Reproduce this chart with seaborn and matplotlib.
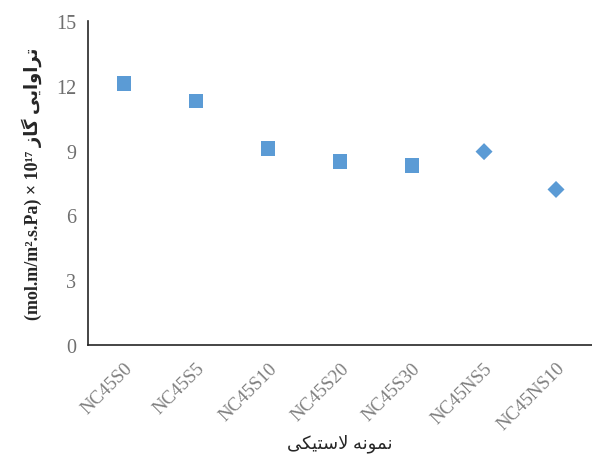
import matplotlib
matplotlib.use("Agg")
import matplotlib.pyplot as plt
import seaborn as sns
import pandas as pd

# Datos
samples = ['NC45S0', 'NC45S5', 'NC45S10', 'NC45S20', 'NC45S30', 'NC45NS5', 'NC45NS10']
permeability = [12.1, 11.3, 9.1, 8.5, 8.3, 8.95, 7.2]
filler = ['S', 'S', 'S', 'S', 'S', 'NS', 'NS']
y_ticks = [0, 3, 6, 9, 12, 15]

# Texto persa ya en orden visual (formas de presentación), matplotlib no hace shaping
x_label = '\uFEF0\uFB91\uFEF4\uFE98\uFEB3\uFEFB \uFEEA\uFEE7\uFEEE\uFEE4\uFEE7'
y_label = ('(mol.m/m\u00B2.s.Pa) \u00D7 10\u00B9\u2077 '
           '\uFEAF\uFE8E\uFB94 \uFEF0\uFEF3\uFE8D\uFEED\uFE8D\uFEAE\uFE97')

df = pd.DataFrame({'sample': samples, 'perm': permeability, 'filler': filler})

sns.set_theme(style="white")
plt.rcParams['font.family'] = ['Liberation Serif', 'DejaVu Sans']

fig, ax = plt.subplots(figsize=(5.92, 4.64), dpi=100)
fig.subplots_adjust(left=0.149, right=1.0, top=0.953, bottom=0.254)

sns.scatterplot(data=df, x='sample', y='perm', style='filler',
                markers={'S': 's', 'NS': 'D'},
                color='#5B9BD5', s=110, linewidth=0, legend=False, ax=ax)
# rombos un poco más pequeños
coll = ax.collections[0]
sizes = [110 if f == 'S' else 75 for f in filler]
coll.set_sizes(sizes)

ax.set_xlim(-0.5, len(samples) - 0.5)
ax.set_ylim(0, 15)
ax.set_yticks(y_ticks)
ax.set_xticks(range(len(samples)))
ax.set_xticklabels(samples, rotation=45, ha='right', rotation_mode='anchor')

for side in ['top', 'right']:
    ax.spines[side].set_visible(False)
for side in ['left', 'bottom']:
    ax.spines[side].set_color('#262626')
    ax.spines[side].set_linewidth(1.2)

ax.tick_params(axis='both', which='both', direction='out', length=5, width=1.1,
               color='#262626', labelsize=14.5, labelcolor='#6f6f6f')
ax.tick_params(axis='x', pad=5, labelsize=13.5, labelcolor='#7f7f7f')

ax.set_xlabel(x_label, fontsize=13, color='#262626', labelpad=0)
ax.set_ylabel(y_label, fontsize=13, color='#262626', fontweight='bold', labelpad=10)

plt.savefig('out.png', dpi=100)
